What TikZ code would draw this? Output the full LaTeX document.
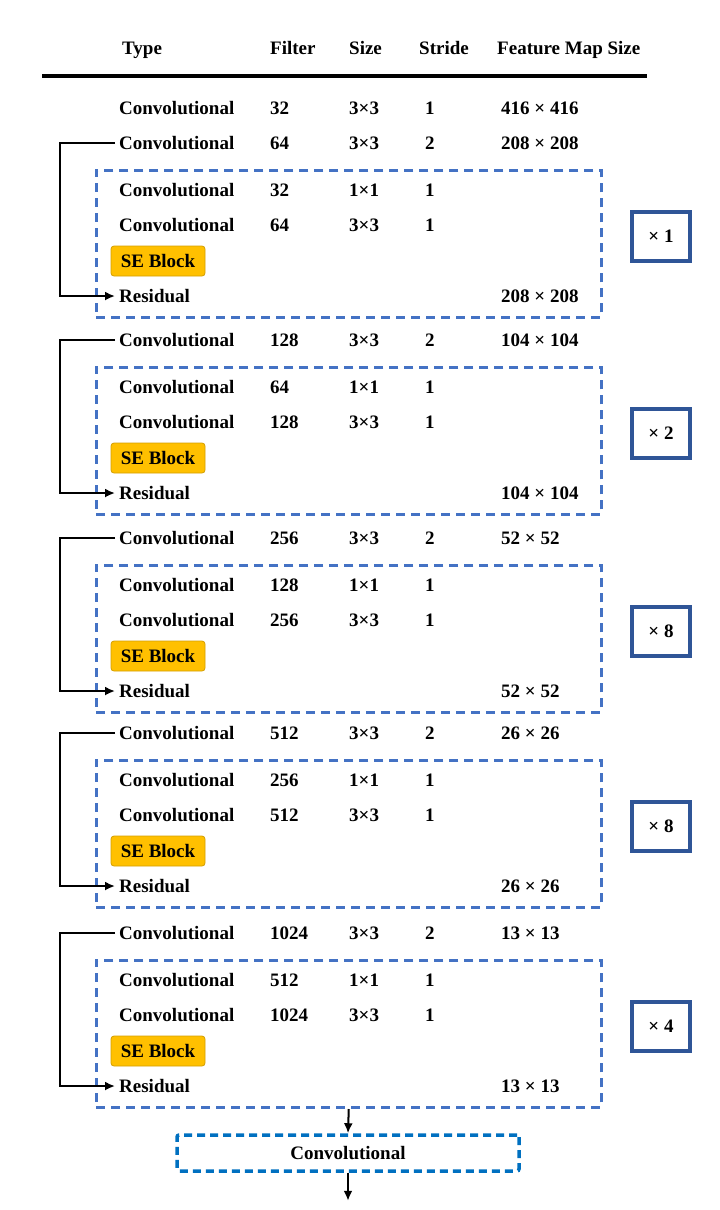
\documentclass[tikz,border=0pt]{standalone}
\usepackage{fontspec}
\setmainfont{Liberation Serif}
\usetikzlibrary{arrows.meta,positioning}
\definecolor{dashblue}{HTML}{4472C4}
\definecolor{convblue}{HTML}{0070C0}
\definecolor{repblue}{HTML}{2F5597}
\definecolor{sefill}{HTML}{FFC000}
\definecolor{sedraw}{HTML}{D49E00}
\tikzset{
  txt/.style = {anchor=base west,inner sep=0pt,font=\fontsize{19}{22}\selectfont\bfseries},
  grp/.style = {draw=dashblue,line width=3.5pt,dash pattern=on 9pt off 6pt,minimum width=505pt,minimum height=147pt,anchor=north west,inner sep=0pt},
  seblock/.style = {draw=sedraw,fill=sefill,rounded corners=3pt,line width=0.8pt,minimum width=94pt,minimum height=30pt,inner sep=0pt,font=\fontsize{19}{22}\selectfont\bfseries},
  rep/.style = {draw=repblue,line width=4pt,minimum width=58pt,minimum height=49pt,inner sep=0pt,font=\fontsize{19}{22}\selectfont\bfseries},
  convbox/.style = {draw=convblue,line width=3.5pt,dash pattern=on 8pt off 5pt,rounded corners=2pt,minimum width=342pt,minimum height=36pt,inner sep=0pt,font=\fontsize{19}{22}\selectfont\bfseries},
  skip/.style = {draw,line width=2pt,-{Latex[length=10pt,width=9pt]},shorten <=4pt,shorten >=4pt},
  flow/.style = {draw,line width=2pt,-{Latex[length=10pt,width=9pt]}}
}

\begin{document}
\begin{tikzpicture}[x=1pt,y=-1pt]
\useasboundingbox (0,0) rectangle (720,1210);

% header
\node[txt] (h-type) at (122,54) {Type};
\node[txt] (h-filter) at (270,54) {Filter};
\node[txt] (h-size) at (349,54) {Size};
\node[txt] (h-stride) at (419,54) {Stride};
\node[txt] (h-map) at (497,54) {Feature Map Size};
\draw[line width=4pt] (42,76) -- (647,76);

\node[txt] (c0) at (119,114.5) {Convolutional};
\node[txt] (c0-f) at (270,114.5) {32};
\node[txt] (c0-s) at (349,114.5) {3×3};
\node[txt] (c0-st) at (425,114.5) {1};
\node[txt] (c0-m) at (501,114.5) {416 × 416};

\foreach \i/\y/\f/\fa/\m/\n in {1/143/64/32/208/1, 2/340/128/64/104/2, 3/538/256/128/52/8, 4/733/512/256/26/8, 5/933/1024/512/13/4}{
  % downsampling row
  \node[txt] (conv\i) at (119,\y+6.5) {Convolutional};
  \node[txt] at (270,\y+6.5) {\f};
  \node[txt] at (349,\y+6.5) {3×3};
  \node[txt] at (425,\y+6.5) {2};
  \node[txt] at (501,\y+6.5) {\m\ × \m};

  \node[grp] (box\i) at (94.5,\y+25.5) {};

  \node[txt] (a\i) at (119,\y+53.5) {Convolutional};
  \node[txt] at (270,\y+53.5) {\fa};
  \node[txt] at (349,\y+53.5) {1×1};
  \node[txt] at (425,\y+53.5) {1};

  \node[txt] (b\i) at (119,\y+88.5) {Convolutional};
  \node[txt] at (270,\y+88.5) {\f};
  \node[txt] at (349,\y+88.5) {3×3};
  \node[txt] at (425,\y+88.5) {1};

  \node[seblock] (se\i) at (158,\y+118) {SE Block};

  \node[txt] (res\i) at (119,\y+159.5) {Residual};
  \node[txt] at (501,\y+159.5) {\m\ × \m};

  \node[rep] (rep\i) at (661,\y+93.5) {× \n};

  \draw[skip] (conv\i.west) -- ++(-59,0) |- (res\i.west);
}

\node[convbox] (final) at (348,1153) {Convolutional};
\coordinate[below=28pt of final.south] (out);
\draw[flow] (box5.south) -- (final.north);
\draw[flow] (final.south) -- (out);
\end{tikzpicture}
\end{document}
